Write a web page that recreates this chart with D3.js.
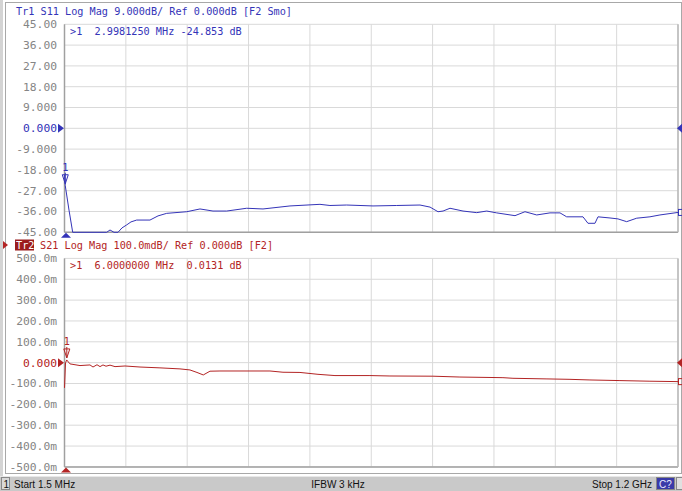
<!DOCTYPE html>
<html>
<head>
<meta charset="utf-8">
<script src="https://cdn.jsdelivr.net/npm/d3@7"></script>
<style>
  body { margin: 0; background: #fff; }
  text { font-family: "DejaVu Sans Mono", monospace; font-size: 10.2px; }
</style>
</head>
<body>
<div id="chart"></div>
<script>
// sweep
var startMHz = 1.5, stopMHz = 1200;

// Tr1 S11 (dB), values below -45 are drawn clipped at the bottom edge
var s11Freq = [1.5, 3.0, 10.3, 17.5, 51.3, 83.9, 90.4, 98.2, 106, 113.8, 123, 131.4, 142.5, 168.5, 184.2, 201.1, 240.2, 266.2, 291.6, 318.4, 357.4, 389.3, 442, 500.6, 520.1, 552.8, 604.2, 650.5, 696, 715.6, 731.2, 741, 754.6, 780, 806.7, 826.3, 845.8, 881.6, 901.1, 924, 950, 969.5, 982.5, 1014.4, 1024.1, 1037.8, 1043.7, 1067.1, 1082.7, 1099.7, 1119.3, 1145.2, 1164.7, 1200];
var s11Val = [-20.2, -24.85, -35.4, -46, -47, -46, -44.0, -45.3, -45.5, -43.1, -41.8, -40.5, -39.7, -39.7, -37.9, -36.8, -36.1, -34.9, -35.8, -35.8, -34.6, -34.9, -33.6, -32.9, -33.4, -33.2, -33.6, -33.4, -33.2, -34.1, -36.1, -35.8, -34.6, -35.8, -36.5, -35.8, -36.6, -37.8, -36.1, -37.5, -36.6, -36.6, -38.3, -38.3, -41.1, -41.1, -38.3, -38.8, -39.2, -40.4, -38.9, -38.3, -37.5, -36.4];

// Tr2 S21 (dB)
var s21Freq = [1.5, 3.5, 5.8, 12.2, 31.8, 51.3, 57.2, 65, 70.9, 76.7, 82.6, 90.4, 100.2, 119.7, 149, 188, 227.1, 246.6, 260.3, 272.6, 285.7, 305.2, 363.8, 402.9, 428.3, 461.5, 496.7, 529.9, 598.2, 637.3, 721.3, 774, 858, 877.6, 944, 989, 1028, 1086.6, 1145.2, 1200];
var s21Val = [-0.121, -0.001, 0.013, -0.006, -0.014, -0.011, -0.021, -0.010, -0.019, -0.011, -0.017, -0.012, -0.019, -0.016, -0.021, -0.025, -0.030, -0.035, -0.047, -0.059, -0.041, -0.040, -0.040, -0.040, -0.046, -0.047, -0.056, -0.062, -0.062, -0.064, -0.065, -0.069, -0.072, -0.075, -0.078, -0.080, -0.083, -0.086, -0.089, -0.091];

// axis ticks
var s11Ticks = [45, 36, 27, 18, 9, 0, -9, -18, -27, -36, -45];
var s11TickLabels = ["45.00", "36.00", "27.00", "18.00", "9.000", "0.000", "-9.000", "-18.00", "-27.00", "-36.00", "-45.00"];
var s21Ticks = [0.5, 0.4, 0.3, 0.2, 0.1, 0, -0.1, -0.2, -0.3, -0.4, -0.5];
var s21TickLabels = ["500.0m", "400.0m", "300.0m", "200.0m", "100.0m", "0.000", "-100.0m", "-200.0m", "-300.0m", "-400.0m", "-500.0m"];
var freqGrid = d3.range(11).map(function(i) { return startMHz + i * (stopMHz - startMHz) / 10; });

var W = 682, H = 491;
var blue = "#3434b8", red = "#b32424";

var svg = d3.select("#chart").append("svg")
  .attr("width", W).attr("height", H);

// outer window frame
svg.append("rect").attr("x", 5.5).attr("y", 2.5).attr("width", 676).attr("height", 471)
  .attr("fill", "none").attr("stroke", "#a8a8a8");
svg.append("rect").attr("x", 0).attr("y", 0).attr("width", 3).attr("height", 476).attr("fill", "#d4d4d4");

var x = d3.scaleLinear().domain([startMHz, stopMHz]).range([64.5, 678]);

function drawPanel(cfg) {
  var y = d3.scaleLinear().domain(cfg.domain).range([cfg.bottom, cfg.top]).clamp(true);
  var g = svg.append("g");

  // grid
  g.selectAll(".hg").data(cfg.ticks).enter().append("line")
    .attr("x1", x.range()[0]).attr("x2", x.range()[1])
    .attr("y1", function(d) { return y(d); }).attr("y2", function(d) { return y(d); })
    .attr("stroke", "#d9d9d9");
  g.selectAll(".vg").data(freqGrid).enter().append("line")
    .attr("x1", function(d) { return x(d); }).attr("x2", function(d) { return x(d); })
    .attr("y1", cfg.top).attr("y2", cfg.bottom)
    .attr("stroke", "#d9d9d9");
  // plot border
  g.append("line").attr("x1", 64.5).attr("x2", 64.5).attr("y1", cfg.top).attr("y2", cfg.bottom)
    .attr("stroke", "#a0a0a0").attr("stroke-width", 1.5);
  g.append("line").attr("x1", 64.5).attr("x2", 678).attr("y1", cfg.bottom).attr("y2", cfg.bottom)
    .attr("stroke", "#a0a0a0").attr("stroke-width", 1.5);
  g.append("line").attr("x1", 678).attr("x2", 678).attr("y1", cfg.top).attr("y2", cfg.bottom)
    .attr("stroke", "#b8b8b8").attr("stroke-width", 1.5);

  // tick labels
  g.selectAll(".tl").data(cfg.ticks).enter().append("text")
    .attr("x", 57).attr("y", function(d) { return y(d); }).attr("dy", "0.35em")
    .attr("text-anchor", "end").style("font-size", "11.3px")
    .attr("fill", function(d) { return d === 0 ? cfg.color : "#858585"; })
    .text(function(d, i) { return cfg.labels[i]; });

  // trace
  var pts = cfg.freq.map(function(f, i) { return [f, cfg.vals[i]]; });
  g.append("path").datum(pts)
    .attr("fill", "none").attr("stroke", cfg.color).attr("stroke-width", 1)
    .attr("d", d3.line().x(function(d) { return x(d[0]); }).y(function(d) { return y(d[1]); }));

  // reference level arrows
  var y0 = y(0);
  g.append("path").attr("d", "M" + 58 + "," + (y0 - 4.5) + "L64," + y0 + "L58," + (y0 + 4.5) + "Z").attr("fill", cfg.color);
  g.append("path").attr("d", "M" + 682 + "," + (y0 - 4.5) + "L677," + y0 + "L682," + (y0 + 4.5) + "Z").attr("fill", cfg.color);
  // start arrow below plot
  var xs = x(startMHz) + 1.5;
  g.append("path").attr("d", "M" + (xs - 5) + "," + (cfg.bottom + 5.5) + "L" + xs + "," + (cfg.bottom + 0.5) + "L" + (xs + 5) + "," + (cfg.bottom + 5.5) + "Z").attr("fill", cfg.color);

  // marker 1
  var mx = x(cfg.markerF), my = y(cfg.markerV);
  g.append("path").attr("d", "M" + (mx - 3) + "," + (my - 11) + "L" + (mx + 3) + "," + (my - 11) + "L" + mx + "," + (my - 2) + "Z")
    .attr("fill", "none").attr("stroke", cfg.color);
  g.append("line").attr("x1", mx).attr("x2", mx).attr("y1", my - 13).attr("y2", my - 2).attr("stroke", cfg.color);
  g.append("text").attr("x", mx).attr("y", my - 15).attr("text-anchor", "middle").attr("fill", cfg.color).text("1");

  // end-of-trace marker at right edge
  var ye = y(cfg.vals[cfg.vals.length - 1]);
  g.append("rect").attr("x", 678.5).attr("y", ye - 3).attr("width", 4).attr("height", 6)
    .attr("fill", "none").attr("stroke", cfg.color);

  // marker readout
  g.append("text").attr("x", 70).attr("y", cfg.top + 7).attr("dy", "0.35em")
    .attr("fill", cfg.color).attr("xml:space", "preserve").text(cfg.readout);

  return y;
}

// panel headers
svg.append("text").attr("x", 16).attr("y", 11).attr("dy", "0.35em").attr("fill", blue)
  .text("Tr1 S11 Log Mag 9.000dB/ Ref 0.000dB [F2 Smo]");

svg.append("path").attr("d", "M3,241L8,245L3,249Z").attr("fill", red);
svg.append("rect").attr("x", 15).attr("y", 239.5).attr("width", 19).attr("height", 11).attr("fill", "#9c1c1c");
svg.append("text").attr("x", 16).attr("y", 245).attr("dy", "0.35em").attr("fill", "#fff").text("Tr2");
svg.append("text").attr("x", 40).attr("y", 245).attr("dy", "0.35em").attr("fill", red)
  .text("S21 Log Mag 100.0mdB/ Ref 0.000dB [F2]");

drawPanel({
  domain: [-45, 45], top: 24.3, bottom: 232.3, ticks: s11Ticks, labels: s11TickLabels,
  freq: s11Freq, vals: s11Val, color: blue, markerF: 3.0, markerV: -24.853,
  readout: ">1  2.9981250 MHz -24.853 dB"
});
drawPanel({
  domain: [-0.5, 0.5], top: 258.4, bottom: 466.9, ticks: s21Ticks, labels: s21TickLabels,
  freq: s21Freq, vals: s21Val, color: red, markerF: 6.0, markerV: 0.0131,
  readout: ">1  6.0000000 MHz  0.0131 dB"
});

// status bar
var sb = svg.append("g").attr("transform", "translate(0,476)");
sb.append("rect").attr("x", 0).attr("y", 0).attr("width", W).attr("height", 15).attr("fill", "#c9c9c9");
sb.append("line").attr("x1", 0).attr("x2", W).attr("y1", 0.5).attr("y2", 0.5).attr("stroke", "#e8e8e8");
sb.append("rect").attr("x", 1.5).attr("y", 1.5).attr("width", 8).attr("height", 12).attr("fill", "#d8d8d8").attr("stroke", "#888");
var sf = { "font-family": "Liberation Sans, Arial, sans-serif", "font-size": "10px" };
function sbText(xp, anchor, str, col) {
  sb.append("text").attr("x", xp).attr("y", 11.5).attr("text-anchor", anchor)
    .style("font-family", sf["font-family"]).style("font-size", sf["font-size"])
    .attr("fill", col || "#111").text(str);
}
sbText(3.5, "start", "1");
sbText(14, "start", "Start 1.5 MHz");
sbText(338, "middle", "IFBW 3 kHz");
sbText(652, "end", "Stop 1.2 GHz");
sb.append("rect").attr("x", 656.5).attr("y", 1.5).attr("width", 18).attr("height", 12).attr("fill", "#3a3aa8").attr("stroke", "#888");
sbText(665.5, "middle", "C?", "#e8e8ff");
sb.append("rect").attr("x", 676.5).attr("y", 1.5).attr("width", 6).attr("height", 12).attr("fill", "#e0e0e0").attr("stroke", "#888");
</script>
</body>
</html>
